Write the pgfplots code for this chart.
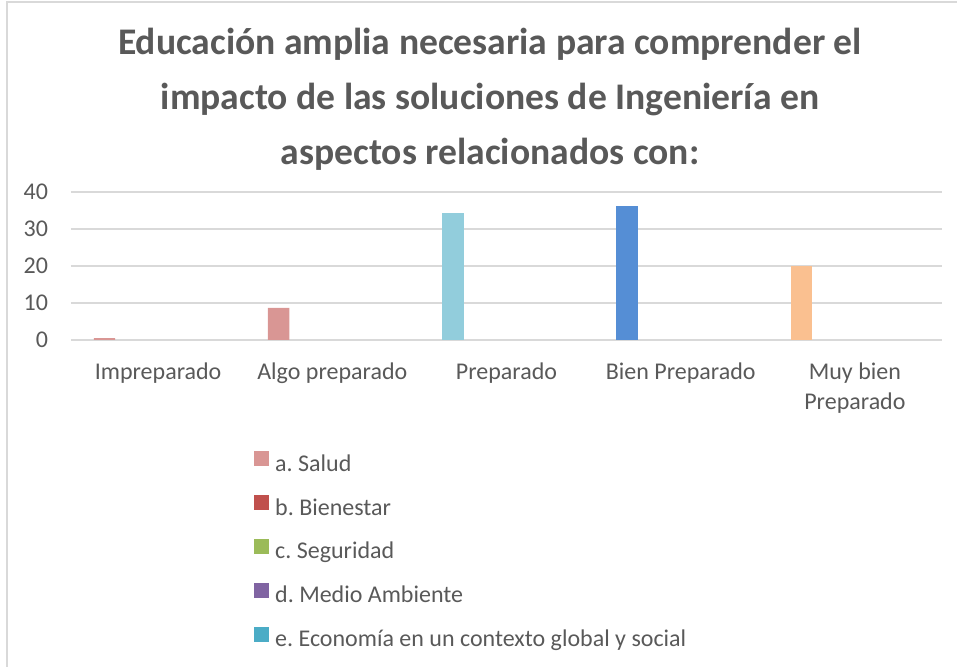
\documentclass[border=0pt]{standalone}
\usepackage{fontspec}
\setmainfont{Carlito}
\usepackage{pgfplots}
\pgfplotsset{compat=1.18}
\definecolor{txt}{HTML}{595959}
\definecolor{gridc}{HTML}{D9D9D9}
\definecolor{borderc}{HTML}{D9D9D9}
\definecolor{salud}{HTML}{D99694}
\definecolor{bienestar}{HTML}{C0504D}
\definecolor{seguridad}{HTML}{9BBB59}
\definecolor{ambiente}{HTML}{8064A2}
\definecolor{economia}{HTML}{4BACC6}
\definecolor{celeste}{HTML}{92CDDC}
\definecolor{azul}{HTML}{558ED5}
\definecolor{naranja}{HTML}{FAC090}

\begin{document}
\frenchspacing
\begin{tikzpicture}[x=0.5pt,y=0.5pt]
\path[use as bounding box] (0,0) rectangle (957,667);
\draw[borderc, line width=1pt] (7,-20) -- (7,665) -- (990,665);

% title, three lines
\begin{scope}[every node/.style={anchor=base, text=txt, font=\fontsize{18.8}{22}\selectfont\bfseries}]
\node at (490,612) {Educación amplia necesaria para comprender el};
\node at (490,557) {impacto de las soluciones de Ingeniería en};
\node at (490,502) {aspectos relacionados con:};
\end{scope}

\begin{axis}[
    at={(35.5pt,163.5pt)}, anchor=south west,
    width=435.5pt, height=74pt, scale only axis,
    xmin=-0.5, xmax=4.5, ymin=0, ymax=40,
    xtick={0,...,4},
    xticklabels={Impreparado, Algo preparado, Preparado, Bien Preparado, {Muy bien\\Preparado}},
    ytick={0,10,20,30,40},
    /pgf/number format/assume math mode=true,
    axis line style={draw=none},
    major tick length=0pt,
    ymajorgrids,
    grid style={gridc, line width=0.65pt},
    tick label style={text=txt, font=\fontsize{12}{15}\selectfont},
    xticklabel style={align=center, yshift=-8pt},
    yticklabel style={xshift=-8pt},
    legend style={at={(0.2101,-0.7505)}, anchor=north west, draw=none, fill=none,
        inner sep=0pt, row sep=9.7pt, column sep=3pt,
        font=\fontsize{12}{14}\selectfont, text=txt,
        nodes={inner sep=0pt, text height=7.7pt, text depth=2.3pt}},
    legend cell align=left,
]
\addplot[ybar, bar width=0.123, bar shift=-0.3077, fill=salud, draw=none, forget plot]
    coordinates {(0,0.5) (1,8.7)};
\addplot[ybar, bar width=0.123, bar shift=-0.3077, fill=celeste, draw=none, forget plot]
    coordinates {(2,34.4)};
\addplot[ybar, bar width=0.123, bar shift=-0.3077, fill=azul, draw=none, forget plot]
    coordinates {(3,36.3)};
\addplot[ybar, bar width=0.123, bar shift=-0.3077, fill=naranja, draw=none, forget plot]
    coordinates {(4,20.0)};

\addlegendimage{legend image code/.code={\fill[salud] (0pt,0pt) rectangle (7pt,7pt);}}
\addlegendentry{a. Salud}
\addlegendimage{legend image code/.code={\fill[bienestar] (0pt,0pt) rectangle (7pt,7pt);}}
\addlegendentry{b. Bienestar}
\addlegendimage{legend image code/.code={\fill[seguridad] (0pt,0pt) rectangle (7pt,7pt);}}
\addlegendentry{c. Seguridad}
\addlegendimage{legend image code/.code={\fill[ambiente] (0pt,0pt) rectangle (7pt,7pt);}}
\addlegendentry{d. Medio Ambiente}
\addlegendimage{legend image code/.code={\fill[economia] (0pt,0pt) rectangle (7pt,7pt);}}
\addlegendentry{e. Economía en un contexto global y social}
\end{axis}
\end{tikzpicture}
\end{document}
